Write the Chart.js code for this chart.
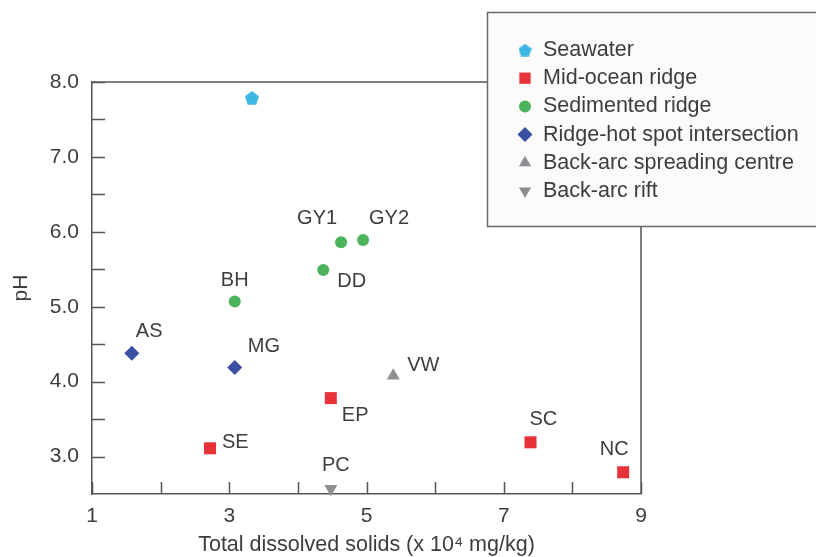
<!DOCTYPE html>
<html>
<head>
<meta charset="utf-8">
<title>pH vs total dissolved solids</title>
<script src="https://cdn.jsdelivr.net/npm/chart.js@4.4.1/dist/chart.umd.min.js"></script>
<style>
  html, body { margin: 0; padding: 0; background: #fff; }
</style>
</head>
<body>
<canvas id="chart" width="816" height="557"></canvas>
<script>
// vent fluid samples: TDS (x 10^4 mg/kg) against pH
const seawaterNames = [''];
const seawaterTds = [3.33];
const seawaterPh = [7.79];

const midOceanNames = ['SE', 'EP', 'SC', 'NC'];
const midOceanTds = [2.72, 4.48, 7.39, 8.74];
const midOceanPh = [3.11, 3.78, 3.19, 2.79];

const sedimentedNames = ['BH', 'DD', 'GY1', 'GY2'];
const sedimentedTds = [3.08, 4.37, 4.63, 4.95];
const sedimentedPh = [5.07, 5.49, 5.86, 5.89];

const hotSpotNames = ['AS', 'MG'];
const hotSpotTds = [1.58, 3.08];
const hotSpotPh = [4.38, 4.19];

const spreadingNames = ['VW'];
const spreadingTds = [5.39];
const spreadingPh = [4.08];

const riftNames = ['PC'];
const riftTds = [4.48];
const riftPh = [2.57];

const xTickLabels = [1, 3, 5, 7, 9];
const xMinorTicks = [2, 4, 6, 8];
const yTickLabels = [3, 4, 5, 6, 7, 8];
const yMinorTicks = [3.5, 4.5, 5.5, 6.5, 7.5];

// where each site name sits relative to its marker
const labelPlacement = {
  SE: { dx: 12, dy: -6, align: 'left' },
  EP: { dx: 11, dy: 17, align: 'left' },
  SC: { dx: -1, dy: -23, align: 'left' },
  NC: { dx: -9, dy: -23, align: 'center' },
  BH: { dx: 0, dy: -21, align: 'center' },
  DD: { dx: 14, dy: 11, align: 'left' },
  GY1: { dx: -24, dy: -24, align: 'center' },
  GY2: { dx: 26, dy: -22, align: 'center' },
  AS: { dx: 4, dy: -22, align: 'left' },
  MG: { dx: 13, dy: -21, align: 'left' },
  VW: { dx: 14, dy: -10, align: 'left' },
  PC: { dx: 5, dy: -23, align: 'center' }
};

const FONT = '"Liberation Sans", Arial, Helvetica, sans-serif';
const TEXT = '#3d3d3d';
const AXIS = '#555555';

function makePentagon(w, color) {
  const c = document.createElement('canvas');
  c.width = w; c.height = w;
  const g = c.getContext('2d');
  const R = w / 1.902;
  const cx = w / 2;
  const cy = w / 2 + (R - 0.809 * R) / 2;
  g.fillStyle = color;
  g.beginPath();
  for (let i = 0; i < 5; i++) {
    const a = -Math.PI / 2 + i * 2 * Math.PI / 5;
    const px = cx + R * Math.cos(a), py = cy + R * Math.sin(a);
    if (i === 0) g.moveTo(px, py); else g.lineTo(px, py);
  }
  g.closePath();
  g.fill();
  return c;
}

function toPoints(xs, ys, names) {
  return xs.map((x, i) => ({ x: x, y: ys[i], name: names[i] }));
}

const datasets = [
  { label: 'Seawater', data: toPoints(seawaterTds, seawaterPh, seawaterNames),
    color: '#3cb6e3', pointStyle: makePentagon(14, '#3cb6e3'), legendStyle: makePentagon(13, '#3cb6e3'),
    pointRadius: 7, legendRadius: 6.5, rotation: 0 },
  { label: 'Mid-ocean ridge', data: toPoints(midOceanTds, midOceanPh, midOceanNames),
    color: '#e8323a', pointStyle: 'rect', pointRadius: 8.5, legendRadius: 8, rotation: 0 },
  { label: 'Sedimented ridge', data: toPoints(sedimentedTds, sedimentedPh, sedimentedNames),
    color: '#4cb25b', pointStyle: 'circle', pointRadius: 6, legendRadius: 6, rotation: 0 },
  { label: 'Ridge-hot spot intersection', data: toPoints(hotSpotTds, hotSpotPh, hotSpotNames),
    color: '#3a4ea2', pointStyle: 'rectRot', pointRadius: 7.5, legendRadius: 7.5, rotation: 0 },
  { label: 'Back-arc spreading centre', data: toPoints(spreadingTds, spreadingPh, spreadingNames),
    color: '#8d8e92', pointStyle: 'triangle', pointRadius: 7.5, legendRadius: 7, rotation: 0 },
  { label: 'Back-arc rift', data: toPoints(riftTds, riftPh, riftNames),
    color: '#8d8e92', pointStyle: 'triangle', pointRadius: 7.5, legendRadius: 7, rotation: 180 }
].map(d => ({
  label: d.label,
  data: d.data,
  pointStyle: d.pointStyle,
  pointRadius: d.pointRadius,
  pointRotation: d.rotation,
  pointBackgroundColor: d.color,
  pointBorderWidth: 0,
  backgroundColor: d.color,
  showLine: false,
  clip: false,
  legendStyle: d.legendStyle || d.pointStyle,
  legendRadius: d.legendRadius
}));

// inward tick marks plus the top/right sides of the frame
const framePlugin = {
  id: 'frame',
  beforeDatasetsDraw(chart) {
    const { ctx, chartArea: a, scales: { x, y } } = chart;
    ctx.save();
    ctx.strokeStyle = AXIS;
    ctx.lineWidth = 1.5;
    ctx.beginPath();
    ctx.moveTo(a.left, a.top);
    ctx.lineTo(a.right, a.top);
    ctx.lineTo(a.right, a.bottom);
    xTickLabels.concat(xMinorTicks).forEach(v => {
      const px = Math.round(x.getPixelForValue(v)) + 0.5;
      ctx.moveTo(px, a.bottom);
      ctx.lineTo(px, a.bottom - 12);
    });
    yTickLabels.concat(yMinorTicks).forEach(v => {
      const py = Math.round(y.getPixelForValue(v)) + 0.5;
      ctx.moveTo(a.left, py);
      ctx.lineTo(a.left + 13, py);
    });
    ctx.stroke();
    ctx.restore();
  }
};

// site names beside the markers
const namePlugin = {
  id: 'siteNames',
  afterDatasetsDraw(chart) {
    const { ctx } = chart;
    ctx.save();
    ctx.font = '20px ' + FONT;
    ctx.fillStyle = TEXT;
    ctx.textBaseline = 'middle';
    chart.data.datasets.forEach((ds, i) => {
      const meta = chart.getDatasetMeta(i);
      meta.data.forEach((pt, j) => {
        const name = ds.data[j].name;
        const place = labelPlacement[name];
        if (!name || !place) return;
        ctx.textAlign = place.align;
        ctx.fillText(name, pt.x + place.dx, pt.y + place.dy);
      });
    });
    ctx.restore();
  }
};

// boxed key in the upper right
const keyPlugin = {
  id: 'keyBox',
  afterDraw(chart) {
    const { ctx } = chart;
    const left = 487.5, top = 12.5, bottom = 226.5, right = 830;
    ctx.save();
    ctx.fillStyle = '#fbfbfb';
    ctx.fillRect(left, top, right - left, bottom - top);
    ctx.strokeStyle = '#6a6a6a';
    ctx.lineWidth = 1.5;
    ctx.strokeRect(left, top, right - left, bottom - top);
    ctx.font = '21.5px ' + FONT;
    ctx.textBaseline = 'middle';
    ctx.textAlign = 'left';
    chart.data.datasets.forEach((ds, i) => {
      const cy = 50 + i * 28.2;
      ctx.fillStyle = ds.backgroundColor;
      if (Chart.helpers && Chart.helpers.drawPoint) {
        Chart.helpers.drawPoint(ctx, {
          pointStyle: ds.legendStyle,
          rotation: ds.pointRotation,
          radius: ds.legendRadius,
          borderWidth: 0
        }, 525, cy);
      } else {
        ctx.beginPath();
        ctx.arc(525, cy, 6, 0, Math.PI * 2);
        ctx.fill();
      }
      ctx.fillStyle = TEXT;
      ctx.fillText(ds.label, 543, cy);
    });
    ctx.restore();
  }
};

new Chart(document.getElementById('chart'), {
  type: 'scatter',
  data: { datasets: datasets },
  plugins: [framePlugin, namePlugin, keyPlugin],
  options: {
    responsive: false,
    animation: false,
    events: [],
    layout: { padding: { left: 0, top: 82, right: 175, bottom: 0 } },
    plugins: {
      legend: { display: false },
      tooltip: { enabled: false }
    },
    scales: {
      x: {
        type: 'linear',
        min: 1,
        max: 9,
        afterBuildTicks: s => { s.ticks = xTickLabels.map(v => ({ value: v })); },
        afterFit: s => { s.height = 63; },
        grid: { display: false, drawTicks: false },
        border: { display: true, color: AXIS, width: 1.5 },
        ticks: {
          padding: 10,
          color: TEXT,
          font: { family: FONT, size: 21 },
          maxRotation: 0,
          autoSkip: false,
          callback: v => String(v)
        },
        title: {
          display: true,
          text: 'Total dissolved solids (x 10\u2074 mg/kg)',
          color: TEXT,
          font: { family: FONT, size: 21.5, lineHeight: 1 },
          padding: { top: 0, bottom: 1 }
        }
      },
      y: {
        type: 'linear',
        min: 2.5,
        max: 8,
        afterBuildTicks: s => { s.ticks = yTickLabels.map(v => ({ value: v })); },
        afterFit: s => { s.width = 92; },
        grid: { display: false, drawTicks: false },
        border: { display: true, color: AXIS, width: 1.5 },
        ticks: {
          padding: 13,
          color: TEXT,
          font: { family: FONT, size: 21 },
          autoSkip: false,
          callback: v => v.toFixed(1)
        },
        title: {
          display: true,
          text: 'pH',
          color: TEXT,
          font: { family: FONT, size: 21, lineHeight: 1 },
          padding: { top: 11, bottom: 0 }
        }
      }
    }
  }
});
</script>
</body>
</html>
